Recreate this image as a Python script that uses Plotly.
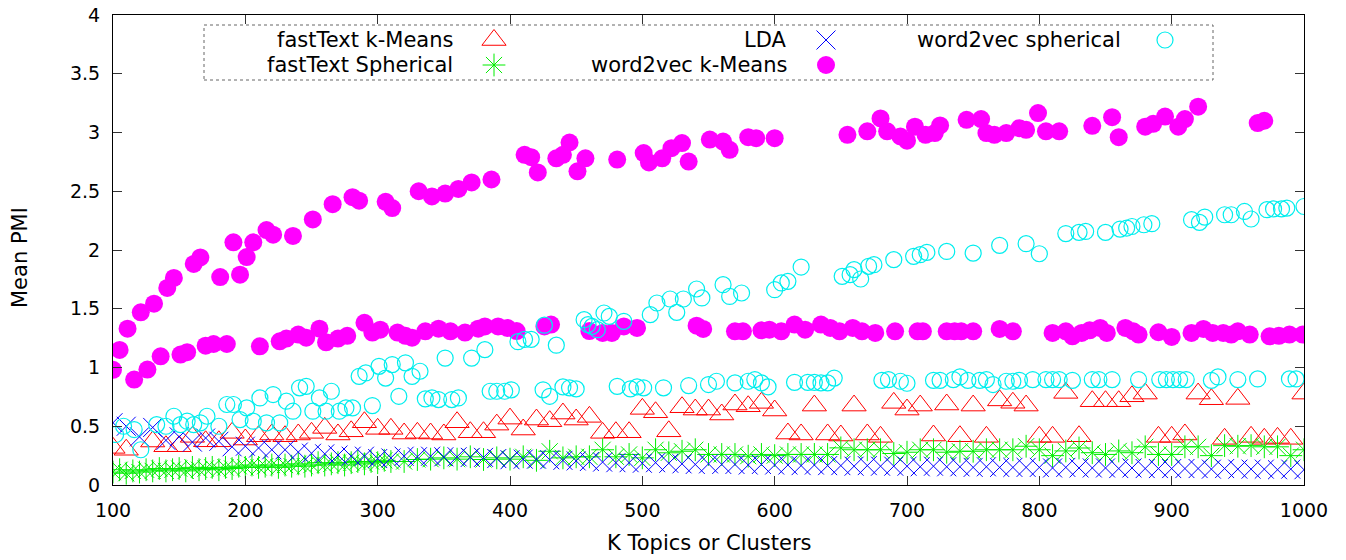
import plotly.graph_objects as go

# ---------------- data ----------------
# fastText k-Means
ftk_k = [100, 110, 130, 140, 150, 160, 170, 180, 190, 200, 210, 220, 230, 240, 250, 260, 270, 280, 290, 300,
         310, 320, 330, 340, 350, 360, 370, 380, 390, 400, 410, 420, 430, 440, 450, 460, 470, 480, 490, 500,
         510, 520, 530, 540, 550, 560, 570, 580, 590, 600, 610, 620, 630, 640, 650, 660, 670, 680, 690, 700,
         710, 720, 730, 740, 750, 760, 770, 780, 790, 800, 810, 820, 830, 840, 850, 860, 870, 880, 890, 900,
         910, 920, 930, 940, 950, 960, 970, 980, 990, 1000]
ftk_v = [0.316, 0.30, 0.37, 0.33, 0.33, 0.41, 0.372, 0.372, 0.444, 0.387, 0.415, 0.43, 0.415, 0.43, 0.444,
         0.486, 0.43, 0.457, 0.534, 0.478, 0.478, 0.438, 0.444, 0.438, 0.43, 0.534, 0.449, 0.449, 0.514, 0.565,
         0.472, 0.557, 0.543, 0.608, 0.557, 0.58, 0.444, 0.449, 0.449, 0.648, 0.619, 0.457, 0.662, 0.642, 0.642,
         0.60, 0.685, 0.67, 0.699, 0.634, 0.438, 0.43, 0.676, 0.43, 0.421, 0.676, 0.43, 0.41, 0.699, 0.642,
         0.676, 0.421, 0.685, 0.415, 0.676, 0.41, 0.72, 0.70, 0.676, 0.41, 0.41, 0.784, 0.415, 0.713, 0.713,
         0.713, 0.755, 0.778, 0.41, 0.41, 0.43, 0.778, 0.73, 0.393, 0.733, 0.41, 0.393, 0.401, 0.393, 0.778]

# fastText Spherical
fts_k = list(range(100, 315, 5)) + list(range(320, 1010, 10))
fts_v = [0.11, 0.13, 0.10, 0.12, 0.11, 0.13, 0.12, 0.14, 0.12, 0.13,
         0.14, 0.12, 0.15, 0.13, 0.14, 0.15, 0.13, 0.15, 0.14, 0.16,
         0.15, 0.17, 0.15, 0.16, 0.17, 0.15, 0.17, 0.16, 0.18, 0.16,
         0.17, 0.19, 0.17, 0.18, 0.19, 0.17, 0.19, 0.20, 0.18, 0.20,
         0.19, 0.21, 0.20,
         0.20, 0.217, 0.22, 0.231, 0.22, 0.24, 0.217, 0.231, 0.22, 0.24, 0.21, 0.287, 0.231, 0.24, 0.24,
         0.30, 0.24, 0.26, 0.231, 0.30, 0.274, 0.287, 0.30,
         0.26, 0.26, 0.26, 0.245, 0.26, 0.25, 0.26, 0.26, 0.26, 0.26, 0.316, 0.30, 0.30, 0.30, 0.268,
         0.279, 0.30, 0.30, 0.279, 0.287, 0.287, 0.30, 0.30,
         0.30, 0.33, 0.30, 0.25, 0.29, 0.315, 0.275, 0.26, 0.29, 0.275, 0.325, 0.26, 0.26, 0.325, 0.325,
         0.25, 0.335, 0.33, 0.335, 0.325, 0.325, 0.25, 0.30]

# LDA
lda_k = list(range(100, 1010, 10))
lda_v = [0.53, 0.50, 0.41, 0.49, 0.38, 0.41, 0.365, 0.40, 0.372, 0.325,
         0.33, 0.315, 0.30, 0.30, 0.28, 0.27, 0.265, 0.255, 0.245, 0.245,
         0.225, 0.23, 0.245, 0.24, 0.245, 0.24, 0.24, 0.235, 0.235, 0.225,
         0.215, 0.22, 0.22, 0.215, 0.21, 0.205, 0.20, 0.195, 0.19, 0.19,
         0.185, 0.19, 0.185, 0.18, 0.175, 0.18, 0.175, 0.175, 0.17, 0.175,
         0.17, 0.17, 0.165, 0.17, 0.165, 0.165, 0.16, 0.165, 0.16, 0.16,
         0.16, 0.155, 0.16, 0.155, 0.155, 0.15, 0.155, 0.15, 0.15, 0.15,
         0.15, 0.145, 0.15, 0.145, 0.145, 0.145, 0.14, 0.145, 0.14, 0.14,
         0.14, 0.14, 0.14, 0.135, 0.14, 0.135, 0.135, 0.135, 0.13, 0.135,
         0.13]

# word2vec k-Means (upper run)
w2k_up_k = [100, 105, 111, 121, 131, 141, 146, 161, 166, 181, 191, 196, 201, 206, 216, 221, 236, 251, 266, 281,
            286, 306, 311, 331, 341, 351, 361, 371, 386, 411, 416, 421, 435, 440, 445, 451, 457, 481, 501, 505,
            515, 522, 530, 535, 551, 561, 566, 580, 586, 600, 655, 670, 680, 685, 695, 700, 706, 714, 721, 725,
            745, 756, 760, 766, 775, 785, 790, 799, 805, 815, 840, 855, 860, 880, 886, 895, 905, 910, 920, 965, 970]
w2k_up_v = [0.98, 1.15, 1.33, 1.47, 1.543, 1.677, 1.762, 1.881, 1.937, 1.77, 2.065, 1.79, 1.94, 2.065, 2.17, 2.13,
            2.12, 2.26, 2.39, 2.45, 2.42, 2.41, 2.357, 2.50, 2.456, 2.48, 2.52, 2.575, 2.60, 2.81, 2.79, 2.66,
            2.78, 2.81, 2.915, 2.67, 2.78, 2.77, 2.825, 2.745, 2.78, 2.867, 2.91, 2.753, 2.94, 2.923, 2.853, 2.96,
            2.952, 2.952, 2.98, 3.01, 3.12, 3.01, 2.966, 2.93, 3.05, 2.98, 2.995, 3.06, 3.108, 3.114, 2.995, 2.98,
            2.995, 3.037, 3.023, 3.165, 3.01, 3.01, 3.057, 3.13, 2.96, 3.05, 3.074, 3.136, 3.05, 3.114, 3.22,
            3.08, 3.10]

# word2vec k-Means (lower run)
w2k_lo_k = [116, 126, 136, 151, 156, 170, 176, 186, 211, 226, 231, 240, 246, 256, 261, 270, 277, 290, 296, 302,
            315, 321, 326, 336, 346, 355, 366, 376, 381, 391, 398, 405, 426, 431, 460, 470, 477, 486, 496, 541,
            546, 570, 576, 590, 596, 605, 615, 623, 635, 642, 649, 659, 666, 676, 691, 708, 712, 730, 736, 741,
            750, 770, 780, 810, 820, 825, 832, 838, 846, 851, 865, 871, 875, 890, 900, 915, 924, 931, 939, 945,
            950, 959, 974, 981, 989, 999]
w2k_lo_v = [0.897, 0.982, 1.095, 1.11, 1.13, 1.186, 1.20, 1.20, 1.18, 1.223, 1.246, 1.28, 1.254, 1.33, 1.214,
            1.246, 1.27, 1.38, 1.297, 1.322, 1.297, 1.27, 1.254, 1.308, 1.33, 1.308, 1.297, 1.33, 1.35, 1.35,
            1.337, 1.31, 1.35, 1.365, 1.31, 1.294, 1.294, 1.35, 1.337, 1.356, 1.328, 1.308, 1.308, 1.316, 1.322,
            1.308, 1.365, 1.322, 1.365, 1.337, 1.308, 1.337, 1.308, 1.294, 1.308, 1.308, 1.308, 1.308, 1.308,
            1.308, 1.308, 1.328, 1.308, 1.294, 1.308, 1.265, 1.294, 1.316, 1.337, 1.294, 1.337, 1.308, 1.28,
            1.30, 1.26, 1.294, 1.328, 1.294, 1.294, 1.28, 1.308, 1.28, 1.265, 1.27, 1.28, 1.28]

# word2vec spherical (both runs)
w2s_k = [102, 108, 116, 121, 133, 140, 146, 151, 156, 161, 166, 171, 180, 186, 191, 196, 201, 206, 211, 216,
         221, 226, 231, 236, 241, 246, 251, 256, 261, 265, 271, 276, 281, 286, 291, 296, 301, 306, 311, 316,
         321, 326, 332, 336, 341, 346, 351, 356, 361, 371, 381, 385, 390, 396, 401, 406, 411, 416, 425, 426,
         430, 435, 440, 445, 450, 456, 459, 462, 466, 471, 475, 481, 486, 491, 496, 501, 506, 511, 516, 521,
         526, 531, 535, 541, 545, 550, 556, 561, 566, 570, 575, 580, 585, 590, 595, 600, 605, 610, 615, 620,
         625, 630, 635, 640, 645, 651, 657, 660, 665, 671, 675, 681, 686, 690, 695, 700, 705, 710, 715, 720,
         725, 730, 735, 740, 746, 750, 755, 760, 765, 770, 775, 780, 785, 790, 795, 800, 805, 810, 815, 820,
         825, 830, 835, 840, 845, 850, 855, 861, 866, 870, 875, 879, 885, 891, 896, 901, 906, 911, 915, 921,
         925, 930, 935, 940, 945, 950, 955, 960, 965, 972, 977, 983, 987, 989, 994, 1000]
w2s_v = [0.43, 0.50, 0.472, 0.30, 0.514, 0.50, 0.585, 0.514, 0.543, 0.514, 0.529, 0.585, 0.50, 0.685, 0.685,
         0.557, 0.656, 0.543, 0.741, 0.529, 0.77, 0.529, 0.713, 0.628, 0.827, 0.84, 0.628, 0.741, 0.628, 0.798,
         0.628, 0.656, 0.656, 0.925, 0.954, 0.676, 1.01, 0.91, 1.025, 0.755, 1.04, 0.925, 0.968, 0.733, 0.741,
         0.727, 1.08, 0.727, 0.741, 1.08, 1.152, 0.798, 0.798, 0.798, 0.81, 1.22, 1.24, 1.24, 0.81, 1.36,
         0.755, 1.19, 0.835, 0.827, 0.818, 1.407, 1.365, 1.35, 1.322, 1.464, 1.435, 0.84, 1.393, 0.818, 0.835,
         0.827, 1.45, 1.549, 0.827, 1.583, 1.469, 1.583, 0.846, 1.668, 1.592, 0.855, 0.883, 1.705, 1.605, 0.869,
         1.634, 0.883, 0.897, 0.869, 0.835, 1.662, 1.72, 1.733, 0.874, 1.855, 0.874, 0.874, 0.869, 0.869, 0.91,
         1.776, 1.79, 1.833, 1.753, 1.861, 1.875, 0.891, 0.897, 1.918, 0.883, 0.866, 1.946, 1.96, 1.98, 0.891,
         0.891, 1.988, 0.897, 0.92, 0.891, 1.974, 0.891, 0.897, 0.855, 2.04, 0.883, 0.883, 0.891, 2.054, 0.897,
         1.968, 0.897, 0.897, 0.897, 2.14, 0.891, 2.15, 2.158, 0.897, 0.897, 2.15, 0.897, 2.178, 2.187, 2.20,
         0.897, 2.215, 2.224, 0.897, 0.897, 0.897, 0.897, 0.897, 2.258, 2.235, 2.28, 0.891, 0.92, 2.30, 2.30,
         0.897, 2.328, 2.264, 0.903, 2.343, 2.35, 2.35, 2.357, 0.903, 0.903, 2.37]

x_ticks = [100, 200, 300, 400, 500, 600, 700, 800, 900, 1000]
y_ticks = [0, 0.5, 1, 1.5, 2, 2.5, 3, 3.5, 4]
y_tick_text = ["0", "0.5", "1", "1.5", "2", "2.5", "3", "3.5", "4"]

series_names = ["fastText k-Means", "fastText Spherical", "LDA", "word2vec k-Means", "word2vec spherical"]

# ---------------- layout constants (pixels) ----------------
W, H = 1346, 560
L, R, T, B = 113, 42, 15, 75
PW, PH = W - L - R, H - T - B
FONT = "DejaVu Sans"
FS_TICK = 19
FS_TEXT = 21

def px_x(px):
    return (px - L) / PW

def px_y(py):
    return (H - B - py) / PH

RED, GREEN, BLUE, MAGENTA, CYAN = "#ff0000", "#00ee00", "#0000ff", "#ff00ff", "#00eeee"

styles = [
    dict(symbol="triangle-up-open", size=21, color=RED, line=dict(width=1, color=RED)),
    dict(symbol="asterisk-open", size=19, color=GREEN, line=dict(width=1, color=GREEN)),
    dict(symbol="x-thin-open", size=19, color=BLUE, line=dict(width=1, color=BLUE)),
    dict(symbol="circle", size=18, color=MAGENTA, line=dict(width=0)),
    dict(symbol="circle-open", size=16, color=CYAN, line=dict(width=1.2, color=CYAN)),
]

fig = go.Figure()
fig.add_trace(go.Scatter(x=ftk_k, y=ftk_v, mode="markers", marker=styles[0], name=series_names[0]))
fig.add_trace(go.Scatter(x=fts_k, y=fts_v, mode="markers", marker=styles[1], name=series_names[1]))
fig.add_trace(go.Scatter(x=lda_k, y=lda_v, mode="markers", marker=styles[2], name=series_names[2]))
fig.add_trace(go.Scatter(x=w2k_up_k + w2k_lo_k, y=w2k_up_v + w2k_lo_v, mode="markers",
                         marker=styles[3], name=series_names[3]))
fig.add_trace(go.Scatter(x=w2s_k, y=w2s_v, mode="markers", marker=styles[4], name=series_names[4]))

# ---------------- gnuplot-style key (text right-aligned, sample to the right) ----------------
key_box = (204, 25, 1213, 80)
key_text_end = [455, 455, 789, 789, 1123]
key_sample_x = [494, 494, 826, 826, 1165]
key_row_y = [40, 65, 40, 65, 40]

annotations = []
for i, name in enumerate(series_names):
    annotations.append(dict(text=name, x=px_x(key_text_end[i]), y=px_y(key_row_y[i]), xref="paper",
                            yref="paper", xanchor="right", yanchor="middle", showarrow=False,
                            font=dict(family=FONT, size=FS_TEXT, color="black")))
    fig.add_trace(go.Scatter(x=[px_x(key_sample_x[i])], y=[px_y(key_row_y[i])], mode="markers",
                             marker=styles[i], xaxis="x2", yaxis="y2", hoverinfo="skip"))

annotations.append(dict(text="K Topics or Clusters", x=px_x(709), y=px_y(543), xref="paper", yref="paper",
                        xanchor="center", yanchor="middle", showarrow=False,
                        font=dict(family=FONT, size=FS_TEXT, color="black")))
annotations.append(dict(text="Mean PMI", x=px_x(20), y=px_y(258), xref="paper", yref="paper",
                        xanchor="center", yanchor="middle", showarrow=False, textangle=-90,
                        font=dict(family=FONT, size=FS_TEXT, color="black")))

axis_common = dict(showgrid=False, zeroline=False, showline=True, linecolor="black", linewidth=1,
                   mirror="ticks", ticks="inside", ticklen=9, tickcolor="#333", tickwidth=1,
                   tickfont=dict(family=FONT, size=FS_TICK, color="black"), automargin=False)

fig.update_layout(
    width=W, height=H, autosize=False,
    margin=dict(l=L, r=R, t=T, b=B, pad=0, autoexpand=False),
    paper_bgcolor="white", plot_bgcolor="white",
    showlegend=False,
    font=dict(family=FONT, size=FS_TICK, color="black"),
    xaxis=dict(range=[100, 1000], tickvals=x_ticks, ticklabelstandoff=8, **axis_common),
    yaxis=dict(range=[0, 4], tickvals=y_ticks, ticktext=y_tick_text, ticklabelstandoff=8, **axis_common),
    xaxis2=dict(overlaying="x", range=[0, 1], visible=False, fixedrange=True),
    yaxis2=dict(overlaying="y", range=[0, 1], visible=False, fixedrange=True),
    annotations=annotations,
    shapes=[dict(type="rect", xref="paper", yref="paper",
                 x0=px_x(key_box[0]), x1=px_x(key_box[2]), y0=px_y(key_box[3]), y1=px_y(key_box[1]),
                 line=dict(color="#666", width=1, dash="dot"), fillcolor="rgba(0,0,0,0)")],
)

fig.write_html("out.html", config={"displayModeBar": False},
               post_script="document.body.style.margin='0';")
